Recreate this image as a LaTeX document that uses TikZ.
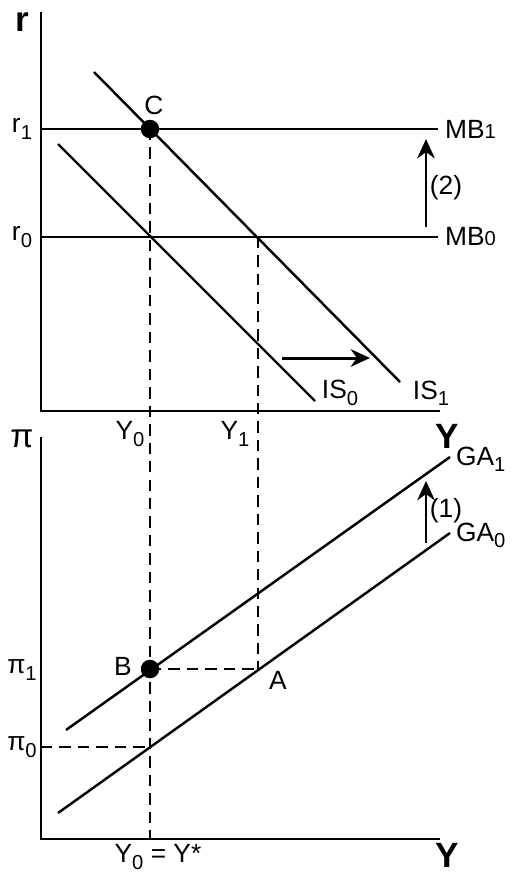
\documentclass[tikz,border=0pt]{standalone}
\usepackage{fontspec}
\setmainfont{Liberation Sans}
\usetikzlibrary{arrows.meta}
\usetikzlibrary{positioning}
\newcommand{\lo}[1]{\raisebox{-0.45ex}{\fontsize{11.5}{11.5}\selectfont #1}}
\newcommand{\sm}[1]{{\fontsize{11.5}{11.5}\selectfont #1}}
\tikzset{
    axis/.style={line width=1.6pt, draw=black},
    curve/.style={line width=1.4pt, draw=black},
    guide/.style={line width=1.4pt, dash pattern=on 6.5pt off 4pt},
    move/.style={-{Stealth[length=11pt,width=10pt]}, line width=1.7pt},
    dot/.style={circle, fill=black, inner sep=0pt, minimum size=0.37cm},
    lbl/.style={font=\fontsize{15}{17}\selectfont, inner sep=1pt},
    axlbl/.style={font=\fontsize{20}{20}\selectfont\bfseries, inner sep=0.5pt}
}

\begin{document}
\begin{tikzpicture}[x=0.02cm, y=-0.02cm]
    \useasboundingbox (0,0) rectangle (513,873);

    % Top panel: axes
    \coordinate (r_top) at (41,12);
    \coordinate (r_origin) at (41,411);
    \coordinate (r_right) at (440,411);
    \draw[axis] (r_top) -- (r_origin) -- (r_right);
    \node (r_label) [axlbl] at (22,22) {r};
    \node (Y_top_label) [axlbl] at (447,436) {Y};

    % MB lines
    \coordinate (MB1_start) at (41,129);
    \coordinate (MB1_end) at (438,129);
    \coordinate (MB0_start) at (41,237);
    \coordinate (MB0_end) at (438,237);
    \draw[curve] (MB1_start) -- (MB1_end);
    \draw[curve] (MB0_start) -- (MB0_end);
    \node (MB1_text) [lbl, right=0.1cm of MB1_end] {MB\sm{1}};
    \node (MB0_text) [lbl, right=0.1cm of MB0_end] {MB\sm{0}};
    \node (r1_text) [lbl] at (22,129) {r\lo{1}};
    \node (r0_text) [lbl] at (22,237) {r\lo{0}};

    % IS curves
    \coordinate (IS1_start) at (94,72);
    \coordinate (IS1_end) at (400,382);
    \coordinate (IS0_start) at (58,144);
    \coordinate (IS0_end) at (315,401);
    \draw[curve] (IS1_start) -- (IS1_end);
    \draw[curve] (IS0_start) -- (IS0_end);
    \node (IS0_text) [lbl] at (340,393) {IS\lo{0}};
    \node (IS1_text) [lbl] at (431,393) {IS\lo{1}};

    % Shifts
    \coordinate (IS_shift_start) at (282,358);
    \coordinate (IS_shift_end) at (370,358);
    \draw[move] (IS_shift_start) -- (IS_shift_end);
    \coordinate (MB_shift_start) at (426,227);
    \coordinate (MB_shift_end) at (426,139);
    \draw[move] (MB_shift_start) -- (MB_shift_end);
    \node (MB_shift_text) [lbl] at (446,188) {(2)};

    % Points
    \coordinate (C) at (150,129);
    \coordinate (D) at (258,237);
    \node (C_text) [lbl] at (154,105) {C};
    \node (Y0_text) [lbl] at (130,434) {Y\lo{0}};
    \node (Y1_text) [lbl] at (235,434) {Y\lo{1}};

    % Bottom panel: axes
    \coordinate (pi_top) at (41,437);
    \coordinate (pi_origin) at (41,839);
    \coordinate (pi_right) at (440,839);
    \draw[axis] (pi_top) -- (pi_origin) -- (pi_right);
    \node (pi_label) [lbl, font=\fontsize{19}{19}\selectfont] at (22,439) {π};
    \node (Y_bottom_label) [axlbl] at (447,855) {Y};
    \node (Ystar_text) [lbl] at (158,857) {Y\lo{0} = Y*};

    % GA curves
    \coordinate (GA1_start) at (66,730);
    \coordinate (GA1_end) at (450,457);
    \coordinate (GA0_start) at (58,813);
    \coordinate (GA0_end) at (450,533);
    \draw[curve] (GA1_start) -- (GA1_end);
    \draw[curve] (GA0_start) -- (GA0_end);
    \node (GA1_text) [lbl, right=0.08cm of GA1_end, yshift=-0.05cm] {GA\lo{1}};
    \node (GA0_text) [lbl, right=0.08cm of GA0_end, yshift=-0.05cm] {GA\lo{0}};
    \coordinate (GA_shift_start) at (426,543);
    \coordinate (GA_shift_end) at (426,481);
    \draw[move] (GA_shift_start) -- (GA_shift_end);
    \node (GA_shift_text) [lbl] at (446,511) {(1)};

    % Points
    \coordinate (B) at (150,669);
    \coordinate (A) at (258,669);
    \coordinate (E) at (150,747);
    \coordinate (pi1_axis) at (41,669);
    \coordinate (pi0_axis) at (41,747);
    \coordinate (Y0_axis) at (150,839);
    \node (B_text) [lbl] at (123,666) {B};
    \node (A_text) [lbl] at (278,680) {A};
    \node (pi1_text) [lbl] at (22,670) {π\lo{1}};
    \node (pi0_text) [lbl] at (22,747) {π\lo{0}};

    % Dashed guides
    \draw[guide] (C) -- (Y0_axis);
    \draw[guide] (D) -- (A);
    \draw[guide] (B) -- (A);
    \draw[guide] (pi0_axis) -- (E);

    % Dots
    \node (C_dot) [dot] at (C) {};
    \node (B_dot) [dot] at (B) {};

\end{tikzpicture}
\end{document}
